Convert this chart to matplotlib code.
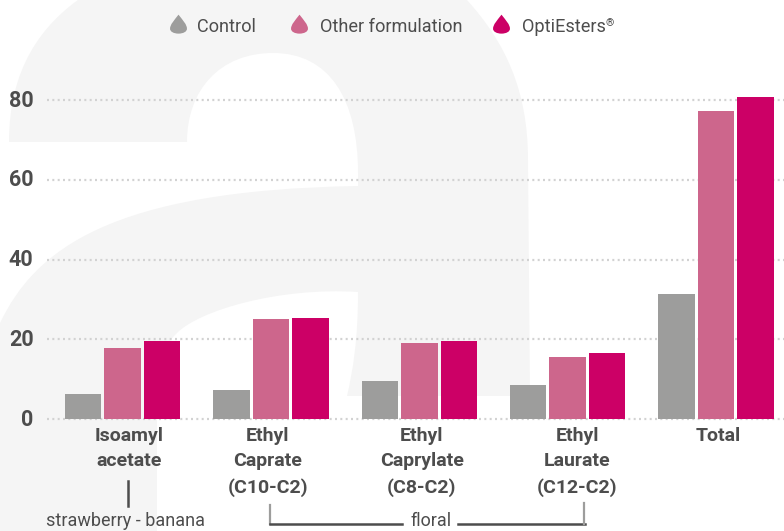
from matplotlib import pyplot as plt
from matplotlib.path import Path
from matplotlib.patches import PathPatch
import numpy as np

# 数据
categories = ['Isoamyl\nacetate', 'Ethyl\nCaprate\n(C10-C2)', 'Ethyl\nCaprylate\n(C8-C2)', 'Ethyl\nLaurate\n(C12-C2)', 'Total']
control = [6.2, 7.3, 9.5, 8.5, 31.3]
other = [17.8, 25.1, 19.0, 15.5, 77.3]
optiesters = [19.5, 25.3, 19.5, 16.5, 80.8]
y_ticks = [0, 20, 40, 60, 80]
series_names = ['Control', 'Other formulation', 'OptiEsters']

GREY = '#9d9d9c'
PINK = '#cd668c'
RED = '#cc0066'
TEXT = '#4d4d4d'
W, H = 784, 531

plt.rcParams['font.family'] = ['Roboto', 'DejaVu Sans']

fig = plt.figure(figsize=(W / 100, H / 100), dpi=100)

# 背景的大字母 a，用像素坐标
bg = fig.add_axes([0, 0, 1, 1], zorder=0)
bg.set_xlim(0, W)
bg.set_ylim(H, 0)
bg.axis('off')
M, L, C, Z = Path.MOVETO, Path.LINETO, Path.CURVE4, Path.CLOSEPOLY
verts = [(9, 142),
         (9, 70), (40, 25), (85, -5),
         (140, -35), (210, -40), (270, -40),
         (380, -40), (440, -30), (467, 0),
         (505, 42), (528, 90), (528, 160),
         (530, 396), (347, 396),
         (353, 370), (358, 340), (358, 292),
         (280, 287), (200, 310), (177, 333),
         (163, 347), (157, 360), (157, 385),
         (157, 531), (0, 531), (0, 323),
         (35, 250), (110, 190), (358, 186),
         (358, 173),
         (358, 100), (330, 53), (273, 53),
         (220, 53), (187, 90), (187, 142),
         (9, 142)]
codes = [M, C, C, C, C, C, C, C, C, C, C, C, C,
         L, L, C, C, C, C, C, C, C, C, C, L, L, L, C, C, C, L,
         C, C, C, C, C, C, L]
bg.add_patch(PathPatch(Path(verts, codes), fc='#f5f5f5', ec='none'))

# 主图
ax = fig.add_axes([0, 0, 1, 1], zorder=1)
ax.patch.set_visible(False)
step = 148.4
unit = 3.9875
ax.set_xlim(-122.5 / step, (W - 122.5) / step)
ax.set_ylim(-(H - 419) / unit, 419 / unit)
ax.axis('off')

x = np.arange(len(categories))
offset = 39.5 / step
width = 36.5 / step
for v in y_ticks:
    ax.plot([-75.5 / step, ax.get_xlim()[1]], [v, v], color='#d2d2d2', lw=1.6, ls=(0, (0.9, 1.5)), zorder=1)
    ax.text(-89 / step, v + 0.5, str(v), ha='right', va='center_baseline', fontsize=15.5, fontweight='bold', color=TEXT)
ax.bar(x - offset, control, width, color=GREY, zorder=2)
ax.bar(x, other, width, color=PINK, zorder=2)
ax.bar(x + offset, optiesters, width, color=RED, zorder=2)

# 类别标签与柱组中心并不完全对齐
label_shift = [6.5, -3, 2.5, 9.5, 2]
for xi, label, s in zip(x, categories, label_shift):
    ax.text(xi + s / step, -2.0, label, ha='center', va='top', fontsize=14, fontweight='bold',
            color=TEXT, linespacing=1.52)

# 覆盖层：图例水滴和括号线
top = fig.add_axes([0, 0, 1, 1], zorder=2)
top.patch.set_visible(False)
top.set_xlim(0, W)
top.set_ylim(H, 0)
top.axis('off')

drop = Path([(0, 1), (0.42, 0.45), (0.78, 0.1), (0.78, -0.3), (0.78, -0.58), (0.42, -0.75), (0, -0.75),
             (-0.42, -0.75), (-0.78, -0.58), (-0.78, -0.3), (-0.78, 0.1), (-0.42, 0.45), (0, 1)],
            [M, C, C, C, C, C, C, C, C, C, C, C, C])
for px, name, tx, col in zip([178.5, 299.5, 501.5], series_names, [197, 320, 522], [GREY, PINK, RED]):
    top.plot([px], [24.9], marker=drop, ms=15.6, color=col, mew=0, ls='none')
    top.text(tx, 27.2, name, ha='left', va='center', fontsize=13.1, color=TEXT)
top.text(605.5, 23.5, '®', ha='left', va='center', fontsize=7.5, color=TEXT)

top.text(125.5, 521.5, 'strawberry - banana', ha='center', va='center', fontsize=13, color=TEXT)
top.text(431, 521.5, 'floral', ha='center', va='center', fontsize=13, color=TEXT)
top.plot([128, 128], [481, 506], color=TEXT, lw=1.8)
top.plot([270.5, 270.5], [505, 524], color=GREY, lw=1.6)
top.plot([270, 402], [524, 524], color=TEXT, lw=1.8)
top.plot([458, 585], [524, 524], color=TEXT, lw=1.8)
top.plot([584, 584], [503, 524], color=GREY, lw=1.6)

fig.savefig('out.png', dpi=100)
